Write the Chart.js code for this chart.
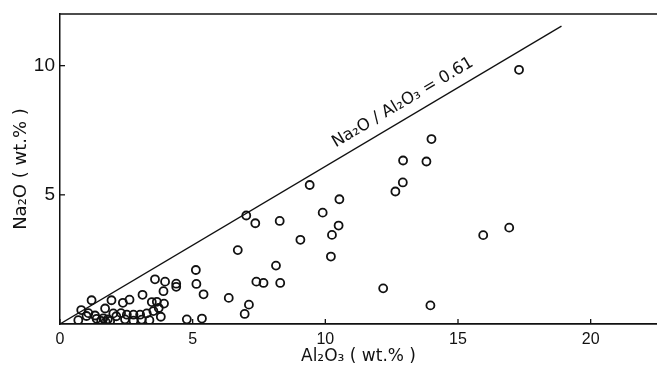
<!DOCTYPE html>
<html>
<head>
<meta charset="utf-8">
<script src="https://cdn.jsdelivr.net/npm/chart.js@4.4.0/dist/chart.umd.min.js"></script>
<style>
  html, body { margin: 0; padding: 0; background: #fff; }
  #wrap { width: 657px; height: 369px; position: relative; }
</style>
</head>
<body>
<div id="wrap"><canvas id="c"></canvas></div>
<script>
// ---- data ----
const sampleAl2O3 = [
  17.3, 14.0, 12.93, 13.81, 12.92, 12.64, 9.41, 10.53, 9.9, 10.5, 10.25, 10.21, 15.95, 16.93, 12.18, 13.96, 9.06,
  7.02, 7.36, 8.28, 6.7, 8.14, 7.4, 7.67, 8.3, 6.36, 7.12, 6.96,
  5.12, 5.14, 5.41, 4.78, 5.35,
  3.58, 3.96, 4.38, 4.38, 3.9, 3.11, 3.46, 3.65, 3.92, 3.72, 3.52, 3.8, 3.37,
  2.62, 2.37, 1.94, 1.19, 3.27, 3.02, 2.77, 2.52, 2.3,
  2.01, 1.7, 0.8, 0.69, 1.07, 1.32, 1.0,
  1.38, 1.55, 1.63, 1.72, 1.8, 1.89, 2.12, 2.45, 2.77, 3.08
];
const sampleNa2O = [
  9.84, 7.16, 6.33, 6.29, 5.48, 5.13, 5.38, 4.83, 4.31, 3.81, 3.45, 2.61, 3.44, 3.73, 1.38, 0.72, 3.26,
  4.2, 3.9, 3.99, 2.86, 2.26, 1.64, 1.59, 1.59, 1.01, 0.75, 0.39,
  2.09, 1.55, 1.15, 0.18, 0.21,
  1.73, 1.64, 1.56, 1.44, 1.27, 1.13, 0.85, 0.86, 0.79, 0.62, 0.5, 0.28, 0.15,
  0.94, 0.82, 0.92, 0.92, 0.41, 0.36, 0.36, 0.36, 0.42,
  0.41, 0.6, 0.54, 0.15, 0.42, 0.33, 0.31,
  0.2, 0.12, 0.22, 0.08, 0.18, 0.12, 0.3, 0.18, 0.13, 0.17
];
const ratioLineX = [0, 18.9];
const ratioLineY = [0, 11.53];
const ratioLabel = "Na\u2082O / Al\u2082O\u2083 = 0.61";
const ratioLabelAt = 10.6;
const xTickValues = [0, 5, 10, 15, 20];
const yTickValues = [5, 10];
const xTitle = "Al\u2082O\u2083 ( wt.% )";
const yTitle = "Na\u2082O ( wt.% )";

const ink = '#111';

const pts = sampleAl2O3.map((x, i) => ({ x: x, y: sampleNa2O[i] }));
const linePts = ratioLineX.map((x, i) => ({ x: x, y: ratioLineY[i] }));

const framePlugin = {
  id: 'frame',
  afterDraw(chart) {
    const ctx = chart.ctx;
    const xs = chart.scales.x, ys = chart.scales.y;
    const a = chart.chartArea;
    ctx.save();
    ctx.strokeStyle = ink;
    ctx.lineWidth = 1.5;
    // top border
    ctx.beginPath();
    ctx.moveTo(a.left, a.top);
    ctx.lineTo(a.right, a.top);
    ctx.stroke();
    // inward ticks
    ctx.lineWidth = 1.3;
    xs.ticks.forEach(t => {
      const px = xs.getPixelForValue(t.value);
      ctx.beginPath();
      ctx.moveTo(px, a.bottom);
      ctx.lineTo(px, a.bottom - 5);
      ctx.stroke();
    });
    ys.ticks.forEach(t => {
      const py = ys.getPixelForValue(t.value);
      ctx.beginPath();
      ctx.moveTo(a.left, py);
      ctx.lineTo(a.left + 5, py);
      ctx.stroke();
    });
    // rotated ratio label along the line
    const x0 = xs.getPixelForValue(ratioLineX[0]), y0 = ys.getPixelForValue(ratioLineY[0]);
    const x1 = xs.getPixelForValue(ratioLineX[1]), y1 = ys.getPixelForValue(ratioLineY[1]);
    const ang = Math.atan2(y1 - y0, x1 - x0);
    const frac = (ratioLabelAt - ratioLineX[0]) / (ratioLineX[1] - ratioLineX[0]);
    const ax = x0 + (x1 - x0) * frac, ay = y0 + (y1 - y0) * frac;
    const off = 11;
    const bx = ax + Math.sin(ang) * off, by = ay - Math.cos(ang) * off;
    ctx.translate(bx, by);
    ctx.rotate(ang);
    ctx.fillStyle = ink;
    ctx.font = '16.5px "DejaVu Sans"';
    ctx.textAlign = 'left';
    ctx.textBaseline = 'alphabetic';
    ctx.fillText(ratioLabel, 0, 0);
    ctx.restore();
  }
};

new Chart(document.getElementById('c'), {
  type: 'scatter',
  data: {
    datasets: [
      {
        label: 'samples',
        data: pts,
        pointStyle: 'circle',
        pointRadius: 4,
        pointHoverRadius: 4,
        pointBorderWidth: 1.8,
        pointBorderColor: ink,
        pointBackgroundColor: 'rgba(0,0,0,0)'
      },
      {
        label: 'ratio',
        type: 'line',
        data: linePts,
        borderColor: ink,
        borderWidth: 1.3,
        pointRadius: 0,
        fill: false
      }
    ]
  },
  options: {
    responsive: true,
    maintainAspectRatio: false,
    animation: false,
    layout: { autoPadding: false, padding: { top: 14, right: 0, left: 0, bottom: 0 } },
    plugins: { legend: { display: false }, tooltip: { enabled: false } },
    scales: {
      x: {
        type: 'linear',
        min: 0,
        max: 22.5,
        afterBuildTicks: s => { s.ticks = xTickValues.map(v => ({ value: v })); },
        afterFit: s => { s.height = 45; s.paddingLeft = 0; s.paddingRight = 0; },
        grid: { display: false, drawTicks: false },
        border: { display: true, color: ink, width: 1.8 },
        ticks: {
          color: ink,
          padding: 6,
          maxRotation: 0,
          font: { family: '"Liberation Sans", Arial, sans-serif', size: 16 }
        },
        title: {
          display: true,
          text: xTitle,
          color: ink,
          padding: { top: 0, bottom: 2 },
          font: { family: '"DejaVu Sans", sans-serif', size: 17 }
        }
      },
      y: {
        type: 'linear',
        min: 0,
        max: 12,
        afterBuildTicks: s => { s.ticks = yTickValues.map(v => ({ value: v })); },
        afterFit: s => { s.width = 60; s.paddingTop = 0; s.paddingBottom = 0; },
        grid: { display: false, drawTicks: false },
        border: { display: true, color: ink, width: 1.5 },
        ticks: {
          color: ink,
          padding: 5,
          font: { family: '"Liberation Sans", Arial, sans-serif', size: 19 }
        },
        title: {
          display: true,
          text: yTitle,
          color: ink,
          padding: { top: 11, bottom: 0 },
          font: { family: '"DejaVu Sans", sans-serif', size: 18 }
        }
      }
    }
  },
  plugins: [framePlugin]
});
</script>
</body>
</html>
